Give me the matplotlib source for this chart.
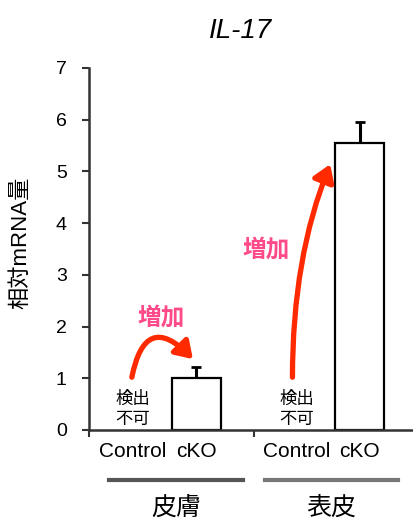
import matplotlib.pyplot as plt
import numpy as np

plt.rcParams['font.family'] = ['Liberation Sans', 'Noto Sans CJK JP']

# data
groups = ['皮膚', '表皮']
conditions = ['Control', 'cKO']
positions = [0, 1, 2.6, 3.6]
values = [0, 1.0, 0, 5.55]
errors = [0, 0.22, 0, 0.4]
not_detected = [True, False, True, False]
title = 'IL-17'
ylabel = '相対mRNA量'

fig = plt.figure(figsize=(4.14, 5.19), dpi=100)
ax = fig.add_axes([0.215, 0.1715, 0.785, 0.6975])

for x, v, e, nd in zip(positions, values, errors, not_detected):
    if nd:
        ax.text(x, 0.06, '不可', ha='center', va='bottom', fontsize=12.5)
        ax.text(x, 0.44, '検出', ha='center', va='bottom', fontsize=12.5)
    else:
        ax.bar(x, v, width=0.78, color='white', edgecolor='black', linewidth=1.6, zorder=2)
        ax.errorbar(x, v, yerr=[[0], [e]], color='black', capsize=3.5, elinewidth=2.2,
                    capthick=2, zorder=1)

ax.set_xlim(-0.70, 4.46)
ax.set_ylim(0, 7)
ax.set_yticks(range(8))
ax.tick_params(axis='y', labelsize=14, length=5, width=1.5, pad=11,
               colors='#333333', labelcolor='black')
ax.set_xticks([-0.70, 1.92])
ax.set_xticklabels(['', ''])
ax.tick_params(axis='x', length=5, width=1.5, colors='#333333')
for s in ['top', 'right']:
    ax.spines[s].set_visible(False)
for s in ['left', 'bottom']:
    ax.spines[s].set_linewidth(1.8)
    ax.spines[s].set_color('#333333')

# condition labels
for x, c in zip(positions, conditions * 2):
    ax.text(x, -0.42, c, ha='center', va='center', fontsize=15)

# group underlines and labels
for (x0, x1, col), g in zip([(-0.38, 1.75, '#555555'), (2.09, 4.21, '#777777')], groups):
    ax.plot([x0, x1], [-0.97, -0.97], color=col, lw=3, clip_on=False)
    ax.text((x0 + x1) / 2, -1.5, g, ha='center', va='center', fontsize=18)

# increase arrows
red = '#ff2a00'
ax.annotate('', xy=(0.95, 1.37), xytext=(-0.02, 1.02),
            arrowprops=dict(arrowstyle='-|>,head_length=1.0,head_width=0.65', color=red,
                            lw=3.8, shrinkA=0, shrinkB=0,
                            connectionstyle='arc3,rad=-0.95'))
ax.annotate('', xy=(3.13, 5.14), xytext=(2.53, 1.02),
            arrowprops=dict(arrowstyle='-|>,head_length=1.0,head_width=0.65', color=red,
                            lw=3.8, shrinkA=0, shrinkB=0,
                            connectionstyle='angle3,angleA=90,angleB=68'))
ax.text(0.45, 2.17, '増加', ha='center', va='center', fontsize=17, color='#ff4a8a',
        fontweight='bold')
ax.text(2.11, 3.48, '増加', ha='center', va='center', fontsize=17, color='#ff4a8a',
        fontweight='bold')

fig.text(0.582, 0.94, title, ha='center', va='center', fontsize=20, style='italic')
fig.text(0.05, 0.532, ylabel, ha='center', va='center', rotation=90, fontsize=16)

fig.savefig('out.png', dpi=100)
